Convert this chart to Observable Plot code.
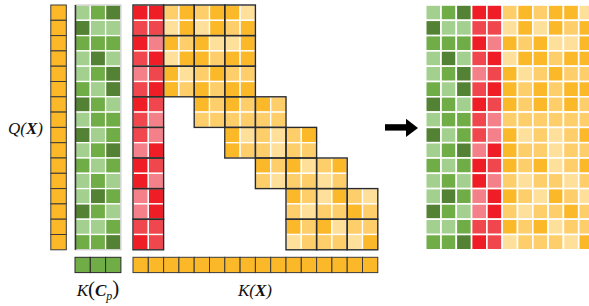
<!DOCTYPE html>
<html><head><meta charset="utf-8">
<script src="https://cdn.jsdelivr.net/npm/d3@7"></script>
<script src="https://cdn.jsdelivr.net/npm/@observablehq/plot@0.6"></script>
<style>body{margin:0;background:#fff;overflow:hidden}</style>
</head><body><div id="chart"></div>
<script>
// ---- data: shade levels (1 = light, 2 = medium, 3 = dark) per row ----
const greenShades = [[1,2,3],[3,1,1],[2,2,2],[1,3,1],[1,2,3],[2,1,3],[3,2,1],[1,2,2],
                     [3,1,2],[1,2,3],[2,1,2],[1,2,1],[1,3,2],[3,2,1],[1,1,2],[2,2,3]];
const redShades   = [[3,3],[2,2],[3,1],[2,3],[1,2],[2,3],[3,2],[2,1],
                     [2,1],[1,3],[3,2],[3,1],[1,3],[1,3],[2,2],[3,2]];
const yellowShades = [
  [2,3,2,3,3,1],[1,3,1,3,2,3],[3,2,3,1,1,3],[1,3,3,2,3,3],
  [3,1,2,3,2,2],[3,2,3,2,3,3],[3,2,3,2,3,2],[2,2,2,2,2,2],
  [3,1,2,1,2,3],[3,2,2,1,2,2],[3,2,3,1,2,3],[2,1,2,2,1,2],
  [3,2,1,3,2,1],[2,1,2,2,3,2],[3,2,3,1,2,2],[1,2,2,2,1,3]];
// first key block column attended by each 2-row query block
const blockStart = [1,1,1,2,3,4,5,5];
const kxCount = 16;
const kcCount = 3;
const labelTexts = ["Q(X)", "K(Cp)", "K(X)"];

const palette = {
  green:  {1:"#A3D08F", 2:"#70AD47", 3:"#548235"},
  red:    {1:"#F4808A", 2:"#F0474E", 3:"#EE1D26"},
  yellow: {1:"#FFE09B", 2:"#FDCE6A", 3:"#FBB829"}
};

// ---- layout ----
const CS = 15.3, TOP = 5, N = greenShades.length;
const X0 = {q: 50.8, green: 75, red: 133, right: 425.7};
const BAR_Y = 257.3;

const leftCells = [], rightCells = [], blocks = [];
greenShades.forEach((row, i) => row.forEach((s, j) => {
  leftCells.push({x: X0.green + j*CS, row: i, fill: palette.green[s]});
  rightCells.push({x: X0.right + j*CS, row: i, fill: palette.green[s]});
}));
redShades.forEach((row, i) => row.forEach((s, j) => {
  leftCells.push({x: X0.red + j*CS, row: i, fill: palette.red[s]});
  rightCells.push({x: X0.right + (3+j)*CS, row: i, fill: palette.red[s]});
}));
yellowShades.forEach((row, i) => row.forEach((s, k) => {
  const col = 2*blockStart[Math.floor(i/2)] + k;
  leftCells.push({x: X0.red + col*CS, row: i, fill: palette.yellow[s]});
  rightCells.push({x: X0.right + (5+k)*CS, row: i, fill: palette.yellow[s]});
}));
blockStart.forEach((b, br) => {
  blocks.push({x: X0.red, row: 2*br});
  for (let c = b; c < b + 3; c++) blocks.push({x: X0.red + 2*c*CS, row: 2*br});
});
const qCells = d3.range(N).map(i => ({x: X0.q, row: i}));
const kxCells = d3.range(kxCount).map(j => ({x: X0.red + j*CS}));
const kcCells = d3.range(kcCount).map(j => ({x: X0.green + j*CS}));

const cellOpts = (w, h) => ({
  x1: d => d.x, x2: d => d.x + w,
  y1: d => TOP + d.row*CS, y2: d => TOP + d.row*CS + h
});
const barOpts = {x1: d => d.x, x2: d => d.x + CS, y1: () => BAR_Y, y2: () => BAR_Y + CS};

const labels = [
  {text: labelTexts[0], x: 25, y: 128},
  {text: labelTexts[1], x: 97.5, y: 290},
  {text: labelTexts[2], x: 254.5, y: 290}
];

const chart = Plot.plot({
  width: 589, height: 306, margin: 0,
  x: {domain: [0, 589], range: [0, 589], axis: null},
  y: {domain: [0, 306], range: [0, 306], axis: null},
  color: {type: "identity"},
  marks: [
    // Q(X) column
    Plot.rect(qCells, {...cellOpts(15.5, CS), fill: "#FBB829", stroke: "#3a3a3a", strokeWidth: 1}),
    // left (sparse) matrices
    Plot.rect(leftCells, {...cellOpts(CS, CS), fill: "fill", stroke: "white", strokeWidth: 1.3}),
    Plot.rect([0], {x1: () => X0.green, x2: () => X0.green + 3*CS, y1: () => TOP, y2: () => TOP + N*CS,
      fill: "none", stroke: "#c4c4c4", strokeWidth: 1}),
    Plot.ruleX([X0.green], {y1: TOP, y2: TOP + N*CS, stroke: "#333", strokeWidth: 1.5}),
    Plot.rect(blocks, {...cellOpts(2*CS, 2*CS), fill: "none", stroke: "#2a2a2a", strokeWidth: 1.4}),
    // key bars
    Plot.rect(kcCells, {...barOpts, fill: "#70AD47", stroke: "#2a2a2a", strokeWidth: 1}),
    Plot.rect(kxCells, {...barOpts, fill: "#FBB829", stroke: "#3a3a3a", strokeWidth: 1}),
    // arrow
    Plot.rect([0], {x1: () => 385, x2: () => 407, y1: () => 124.2, y2: () => 130.6, fill: "black"}),
    Plot.line([[405.5, 118.3], [417.5, 127.4], [405.5, 136.5]], {fill: "black", stroke: "none"}),
    // right (compacted) matrix
    Plot.rect(rightCells, {...cellOpts(CS, CS), fill: "fill", stroke: "white", strokeWidth: 1.6}),
    // labels
    Plot.text(labels, {x: "x", y: "y", text: "text", fontFamily: "Liberation Serif",
      fontStyle: "italic", fontSize: 17, fill: "#111"})
  ]
});

// rich formatting for the labels (bold vector symbols, subscript)
d3.select(chart).selectAll("g[aria-label=text] text").each(function() {
  const t = this.textContent;
  const sel = d3.select(this);
  sel.text("");
  const parts = t === "Q(X)" ? [["Q(",0],["X",1],[")",0]]
              : t === "K(X)" ? [["K(",0],["X",1],[")",0]]
              : [["K",0],["(",3],["C",1],["p",2],[")",3]];
  parts.forEach(([s, k]) => {
    const sp = sel.append("tspan").text(s);
    if (k === 1) sp.attr("font-weight", "bold");
    if (k === 2) sp.attr("font-size", 12).attr("dy", "0.3em");
    if (k === 3) sp.attr("font-size", 21).attr("font-style", "normal").attr("dy", s === ")" ? "-0.2em" : null);
  });
});
document.getElementById("chart").append(chart);
</script>
</body></html>
